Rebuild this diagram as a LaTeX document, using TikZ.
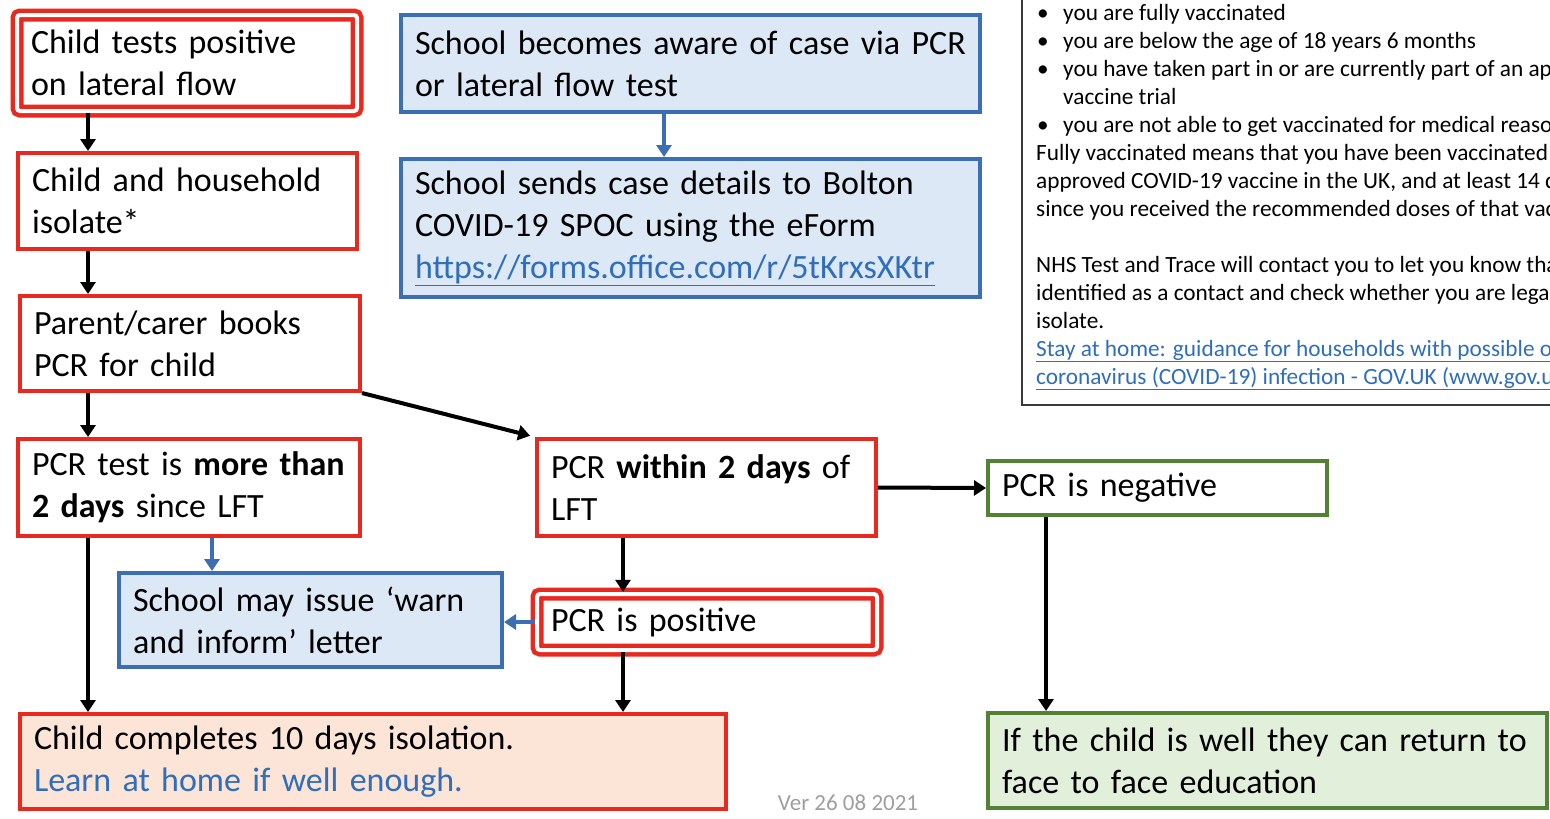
\documentclass[tikz,border=0pt]{standalone}
\usepackage{fontspec}
\setmainfont{Carlito}
\usetikzlibrary{arrows.meta}

\definecolor{boxred}{HTML}{E8291F}
\definecolor{boxblue}{HTML}{3C6EB4}
\definecolor{fillblue}{HTML}{DCE8F5}
\definecolor{boxgreen}{HTML}{548235}
\definecolor{fillgreen}{HTML}{E2EFDA}
\definecolor{fillpeach}{HTML}{FCE4D6}
\definecolor{linkblue}{HTML}{2F6EBA}
\definecolor{frame}{HTML}{3A3A3A}

\begin{document}
\begin{tikzpicture}[line join=miter, x=1pt, y=-1pt, >={Triangle[length=12pt,width=15pt]},
    every node/.style={font=\fontsize{34}{42}\selectfont, align=left, inner xsep=14pt, inner ysep=0pt},
    redbox/.style={draw=boxred, line width=4pt, fill=white},
    dblbox/.style={draw=boxred, line width=4.5pt, double=white, double distance=4pt, rounded corners=3pt},
    bluebox/.style={draw=boxblue, line width=4pt, fill=fillblue},
    greenbox/.style={draw=boxgreen, line width=4pt},
    endbox/.style={draw=boxred, line width=4pt, fill=fillpeach},
    flow/.style={->, line width=4pt},
    note/.style={->, draw=boxblue, line width=3.5pt, >={Triangle[length=12pt,width=15pt]}, color=boxblue},
    infotext/.style={font=\fontsize{23.3}{28}\selectfont, anchor=base west, inner sep=0pt},
    vertext/.style={font=\fontsize{23}{26}\selectfont, text=black!38, inner sep=0pt}]
    \useasboundingbox (0,0) rectangle (1550,819);
    \clip (0,0) rectangle (1550,819);

    % child / parent route
    \node[dblbox, text width=312pt, minimum height=96pt] (lft) at (187,63) {Child tests positive\\on lateral flow};
    \node[redbox, text width=311pt, minimum height=96pt] (iso) at (187.5,201) {Child and household\\isolate*};
    \node[redbox, text width=312pt, minimum height=95pt] (book) at (190,343.5) {Parent/carer books\\PCR for child};
    \node[redbox, text width=314pt, minimum height=97pt] (late) at (189,487.5) {PCR test is \textbf{more than}\\\textbf{2 days} since LFT};
    \node[redbox, text width=311pt, minimum height=97pt] (early) at (706.5,487.5) {PCR \textbf{within 2 days} of\\LFT};
    \node[greenbox, fill=white, text width=311pt, minimum height=54pt] (neg) at (1157.5,488) {PCR is negative};
    \node[bluebox, text width=355pt, minimum height=94pt] (warn) at (310.5,620) {School may issue ‘warn\\and inform’ letter};
    \node[dblbox, text width=312pt, minimum height=56pt] (pos) at (707,622) {PCR is positive};
    \node[endbox, text width=678pt, minimum height=95pt] (ten) at (373,761.5) {Child completes 10 days isolation.\\\textcolor{linkblue}{Learn at home if well enough.}};
    \node[greenbox, fill=fillgreen, text width=531pt, minimum height=95pt] (back) at (1267.5,760.5) {If the child is well they can return to\\face to face education};

    % school route
    \node[bluebox, text width=551pt, minimum height=97pt] (aware) at (690.5,63.5) {School becomes aware of case via PCR\\or lateral flow test};
    \node[bluebox, text width=551pt, minimum height=138pt] (send) at (690.5,228) {School sends case details to Bolton\\COVID-19 SPOC using the eForm\\\textcolor{linkblue}{\underline{https://forms.office.com/r/5tKrxsXKtr}}};

    \coordinate (leftline) at (88,0);
    \coordinate (warnline) at (212,0);
    \coordinate (midline) at (623,0);
    \coordinate (negline) at (1046,0);
    \coordinate (schoolline) at (664,0);

    \draw[flow] (lft.south -| leftline) -- (iso.north -| leftline);
    \draw[flow] (iso.south -| leftline) -- (book.north -| leftline);
    \draw[flow] (book.south -| leftline) -- (late.north -| leftline);
    \draw[flow, shorten >=5pt] (book.south east) -- (early.north west);
    \draw[flow] (late.south -| leftline) -- (ten.north -| leftline);
    \draw[flow] (early.south -| midline) -- (pos.north -| midline);
    \draw[flow] (pos.south -| midline) -- (ten.north -| midline);
    \draw[flow] (early.east) -- (neg.west);
    \draw[flow] (neg.south -| negline) -- (back.north -| negline);
    \draw[note] (late.south -| warnline) -- (warn.north -| warnline);
    \draw[note] (pos.west) -- (pos.west -| warn.east);
    \draw[note] (aware.south -| schoolline) -- (send.north -| schoolline);

    % guidance box, cut off at the edge
    \draw[draw=frame, line width=2pt] (1022,-10) rectangle (1600,405);
    \foreach \i in {0,1,2,4}
      \node[infotext] at (1037,20+28*\i) {\textbullet};
    \foreach \i/\x/\txt in {0/1063/{you are fully vaccinated},
        1/1063/{you are below the age of 18 years 6 months},
        2/1063/{you have taken part in or are currently part of an approved},
        3/1063/{vaccine trial},
        4/1063/{you are not able to get vaccinated for medical reasons},
        5/1036/{Fully vaccinated means that you have been vaccinated},
        6/1036/{approved COVID-19 vaccine in the UK, and at least 14 days},
        7/1036/{since you received the recommended doses of that vaccine},
        9/1036/{NHS Test and Trace will contact you to let you know that},
        10/1036/{identified as a contact and check whether you are legally},
        11/1036/{isolate.},
        12/1036/{\textcolor{linkblue}{\underline{Stay at home: guidance for households with possible or}}},
        13/1036/{\textcolor{linkblue}{\underline{coronavirus (COVID-19) infection - GOV.UK (www.gov.uk)}}}}
      \node[infotext] at (\x,20+28*\i) {\txt};

    \node[vertext] (ver) at (848,803) {Ver 26 08 2021};
\end{tikzpicture}
\end{document}
